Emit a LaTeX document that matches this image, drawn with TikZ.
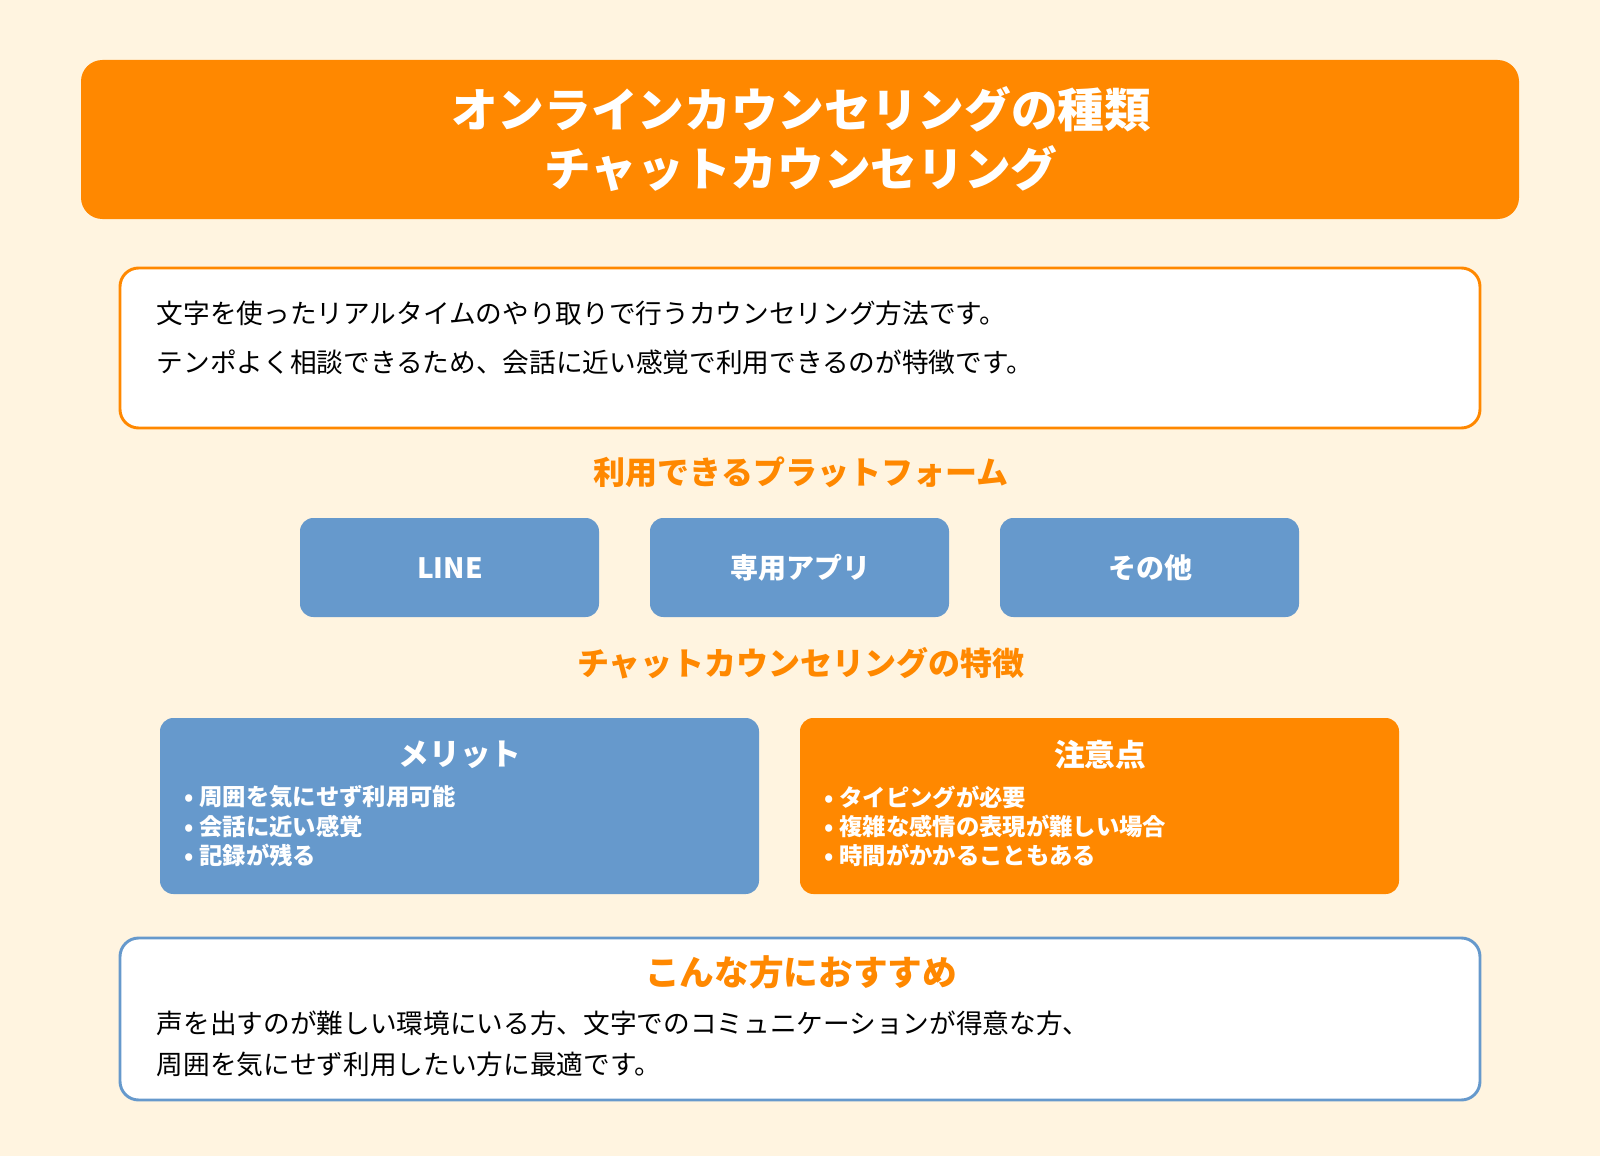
\documentclass[tikz,border=0pt]{standalone}
\usepackage{fontspec}
\setmainfont{Noto Sans CJK JP}
\definecolor{bgcream}{HTML}{FFF4E0}
\definecolor{accent}{HTML}{FF8800}
\definecolor{steel}{HTML}{6699CC}
\tikzset{
  panel/.style={rounded corners=14pt, line width=2.2pt, fill=white},
  chip/.style={rounded corners=10pt, fill=steel},
  chiptext/.style={text=white, font=\fontsize{21}{25}\selectfont\bfseries},
  heading/.style={text=accent, font=\fontsize{24}{28}\selectfont\bfseries},
  body/.style={anchor=west, align=left, font=\fontsize{20}{37}\selectfont},
  bullets/.style={anchor=north west, align=left, text=white, font=\fontsize{17.5}{22}\selectfont\bfseries}
}
\begin{document}
\begin{tikzpicture}[x=0.75pt,y=-0.75pt]
  \fill[bgcream] (0,0) rectangle (1600,1156);
  \useasboundingbox (0,0) rectangle (1600,1156);
  % title
  \fill[accent, rounded corners=16pt] (81,60) rectangle (1519,219);
  \node[text=white, align=center, font=\fontsize{35}{44}\selectfont\bfseries] (title) at (801,139)
    {オンラインカウンセリングの種類\\チャットカウンセリング};
  % description
  \draw[panel, draw=accent] (120,268) rectangle (1480,428);
  \node[body] (desc) at (152,338)
    {文字を使ったリアルタイムのやり取りで行うカウンセリング方法です。\\テンポよく相談できるため、会話に近い感覚で利用できるのが特徴です。};
  % platforms
  \node[heading] (plathead) at (801,472) {利用できるプラットフォーム};
  \fill[chip] (300,518) rectangle (599,617);
  \fill[chip] (650,518) rectangle (949,617);
  \fill[chip] (1000,518) rectangle (1299,617);
  \node[chiptext] (line) at (450,568) {LINE};
  \node[chiptext] (app) at (800,568) {専用アプリ};
  \node[chiptext] (other) at (1150,568) {その他};
  % features
  \node[heading] (feathead) at (801,663) {チャットカウンセリングの特徴};
  \fill[chip] (160,718) rectangle (759,894);
  \fill[accent, rounded corners=10pt] (800,718) rectangle (1399,894);
  \node[chiptext, font=\fontsize{23}{27}\selectfont\bfseries] (merit) at (460,755) {メリット};
  \node[chiptext, font=\fontsize{23}{27}\selectfont\bfseries] (caution) at (1100,755) {注意点};
  \node[bullets] (meritlist) at (180,781)
    {• 周囲を気にせず利用可能\\• 会話に近い感覚\\• 記録が残る};
  \node[bullets] (cautionlist) at (820,781)
    {• タイピングが必要\\• 複雑な感情の表現が難しい場合\\• 時間がかかることもある};
  % recommendation
  \draw[panel, draw=steel] (120,938) rectangle (1480,1100);
  \node[heading, font=\fontsize{26}{30}\selectfont\bfseries] (rechead) at (801,972) {こんな方におすすめ};
  \node[body, font=\fontsize{20}{31}\selectfont] (rec) at (152,1044)
    {声を出すのが難しい環境にいる方、文字でのコミュニケーションが得意な方、\\周囲を気にせず利用したい方に最適です。};
\end{tikzpicture}
\end{document}
